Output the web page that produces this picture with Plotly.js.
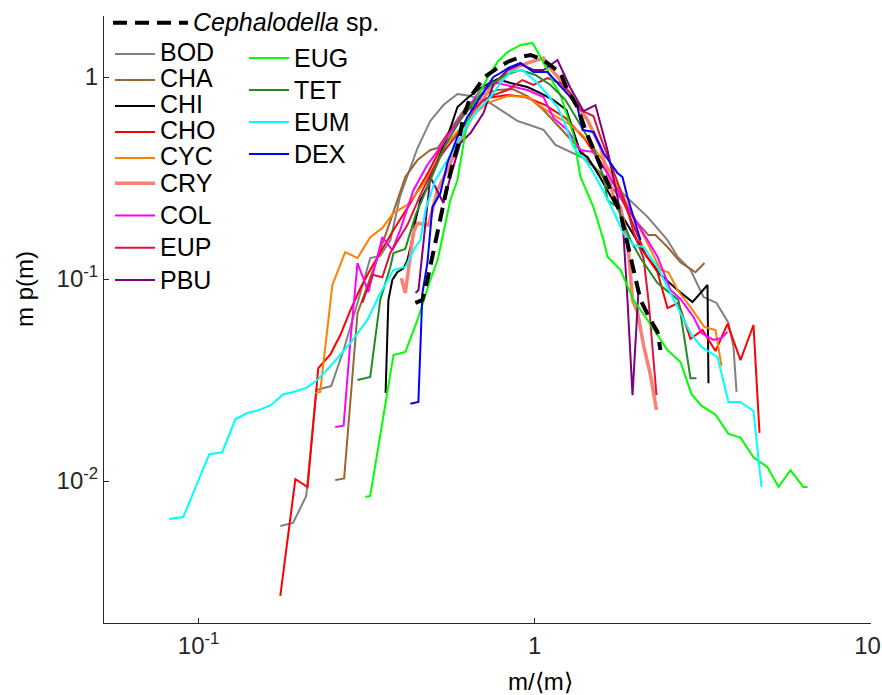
<!DOCTYPE html>
<html>
<head>
<meta charset="utf-8">
<script src="https://cdn.plot.ly/plotly-3.0.1.min.js"></script>
<style>html,body{margin:0;padding:0;background:#fff;}#chart{width:882px;height:695px;}</style>
</head>
<body>
<div id="chart"></div>
<script>
// ---- data (x = m/<m>, y = m p(m)) ----
const seriesNames = ["BOD","CHA","CHI","CHO","CYC","CRY","COL","EUP","PBU","EUG","TET","EUM","DEX"];
const cephName = "Cephalodella sp.";

const bodX = [0.175,0.191,0.209,0.224,0.248,0.270,0.297,0.324,0.347,0.372,0.398,0.448,0.489,0.535,0.589,0.644,0.738,0.807,0.888,0.985,1.062,1.153,1.277,1.397,1.537,1.703,1.888,2.166,2.483,2.66,2.907,3.178,3.474,3.771,3.903,3.984];
const bodY = [0.00599,0.0062,0.00843,0.0282,0.0295,0.0445,0.0761,0.127,0.130,0.156,0.258,0.445,0.606,0.726,0.824,0.805,0.743,0.671,0.606,0.572,0.547,0.461,0.425,0.397,0.346,0.299,0.252,0.203,0.156,0.129,0.111,0.0814,0.0761,0.0606,0.0461,0.0276];

const chaX = [0.255,0.271,0.297,0.309,0.324,0.347,0.377,0.412,0.448,0.489,0.514,0.561,0.622,0.689,0.775,0.859,0.951,1.062,1.193,1.368,1.516,1.646,1.799,1.967,2.18,2.287,2.483,2.714,3.008,3.2];
const chaY = [0.0101,0.0103,0.0678,0.0814,0.0989,0.139,0.207,0.320,0.388,0.435,0.445,0.547,0.702,0.814,0.862,0.872,0.805,0.686,0.559,0.435,0.354,0.299,0.252,0.200,0.165,0.165,0.144,0.121,0.108,0.120];

const chiX = [0.360,0.367,0.377,0.390,0.407,0.418,0.427,0.442,0.457,0.479,0.514,0.550,0.589,0.631,0.689,0.775,0.847,0.951,1.040,1.137,1.243,1.368,1.435,1.569,1.739,1.927,2.136,2.367,2.66,2.947,3.266,3.288];
const chiY = [0.0273,0.0787,0.0989,0.108,0.113,0.124,0.144,0.196,0.246,0.285,0.388,0.505,0.710,0.787,0.882,0.977,0.934,0.892,0.833,0.769,0.686,0.421,0.402,0.316,0.233,0.175,0.132,0.105,0.0882,0.0769,0.0934,0.0305];

const choX = [0.175,0.194,0.211,0.227,0.247,0.264,0.283,0.303,0.324,0.347,0.380,0.427,0.483,0.550,0.631,0.723,0.830,0.938,1.076,1.235,1.416,1.602,1.799,1.967,2.136,2.319,2.483,2.677,2.907,3.156,3.451,3.745,4.095,4.476,4.664];
const choY = [0.0027,0.0102,0.00934,0.0362,0.0425,0.0528,0.0702,0.0902,0.111,0.136,0.175,0.238,0.339,0.516,0.686,0.787,0.814,0.796,0.726,0.627,0.488,0.359,0.261,0.185,0.132,0.108,0.0718,0.0761,0.0505,0.0559,0.044,0.0599,0.0397,0.0592,0.0173];

const cycX = [0.2225,0.230,0.250,0.273,0.297,0.324,0.352,0.380,0.418,0.457,0.500,0.550,0.631,0.723,0.830,0.951,1.040,1.137,1.251,1.368,1.516,1.646,1.824,2.022,2.18,2.367,2.50,2.66,2.907,3.20,3.451,3.595];
const cycY = [0.0273,0.0276,0.0934,0.136,0.127,0.161,0.179,0.212,0.233,0.282,0.354,0.471,0.613,0.743,0.805,0.796,0.718,0.648,0.592,0.528,0.435,0.359,0.261,0.189,0.147,0.111,0.108,0.0882,0.0726,0.0578,0.0559,0.0371];

const cryX = [0.401,0.412,0.436,0.448,0.483,0.500,0.514,0.550,0.601,0.666,0.738,0.818,0.888,0.971,1.062,1.091,1.193,1.304,1.435,1.569,1.646,1.715,1.799,1.888,1.954,2.022,2.107,2.21,2.303];
const cryY = [0.101,0.0852,0.171,0.189,0.185,0.227,0.276,0.346,0.488,0.686,0.882,1.023,1.121,1.187,1.242,1.147,0.966,0.769,0.613,0.450,0.335,0.255,0.227,0.156,0.0787,0.0686,0.0471,0.0334,0.0225];

const colX = [0.255,0.270,0.283,0.297,0.320,0.352,0.377,0.398,0.436,0.479,0.524,0.589,0.657,0.689,0.754,0.847,0.951,1.062,1.137,1.251,1.368,1.495,1.646,1.888,2.136,2.319,2.535,2.714,2.967,3.134,3.403,3.595,3.745];
const colY = [0.0185,0.0188,0.0499,0.120,0.0862,0.161,0.139,0.175,0.276,0.367,0.450,0.599,0.769,0.862,0.944,0.902,0.862,0.796,0.627,0.547,0.435,0.425,0.335,0.227,0.163,0.129,0.0882,0.0796,0.0649,0.054,0.0499,0.0511,0.0546];

const eupX = [0.307,0.329,0.352,0.372,0.418,0.457,0.514,0.561,0.614,0.657,0.704,0.754,0.830,0.919,0.991,1.091,1.193,1.277,1.368,1.495,1.569,1.680,1.799,1.888,1.967,2.107,2.18,2.303];
const eupY = [0.0761,0.105,0.102,0.135,0.185,0.261,0.388,0.471,0.566,0.686,0.769,0.814,0.862,0.966,0.913,0.988,0.934,0.833,0.686,0.641,0.505,0.375,0.276,0.220,0.171,0.127,0.0787,0.0266];

const pbuX = [0.442,0.451,0.489,0.535,0.561,0.601,0.644,0.704,0.754,0.830,0.907,0.991,1.062,1.169,1.277,1.397,1.516,1.646,1.762,1.836,1.888,1.954,2.036];
const pbuY = [0.0852,0.0882,0.320,0.238,0.320,0.471,0.528,0.663,0.923,1.083,1.160,1.083,1.083,1.214,0.882,0.678,0.726,0.435,0.255,0.169,0.0787,0.0266,0.0882];

const eugX = [0.3135,0.324,0.380,0.412,0.448,0.489,0.514,0.561,0.589,0.614,0.631,0.675,0.723,0.775,0.830,0.907,0.985,1.040,1.091,1.137,1.193,1.304,1.368,1.495,1.602,1.646,1.799,1.967,2.166,2.483,2.714,2.927,3.134,3.451,3.771,4.095,4.476,4.926,5.312,5.768,6.305,6.479];
const eugY = [0.00834,0.00843,0.042,0.0435,0.0627,0.0989,0.124,0.246,0.309,0.471,0.613,0.796,0.988,1.187,1.329,1.441,1.474,1.256,1.083,0.934,0.814,0.516,0.320,0.227,0.156,0.129,0.111,0.0787,0.0627,0.0445,0.0388,0.0269,0.0236,0.0213,0.0171,0.0164,0.0131,0.0117,0.00934,0.0113,0.00934,0.00934];

const tetX = [0.297,0.324,0.347,0.372,0.380,0.412,0.442,0.489,0.542,0.601,0.666,0.738,0.818,0.907,1.005,1.114,1.235,1.368,1.495,1.602,1.646,1.762,1.927,2.064,2.319,2.677,2.907,3.029];
const tetY = [0.0316,0.0327,0.0787,0.115,0.1345,0.141,0.207,0.309,0.461,0.613,0.769,0.913,1.023,1.083,1.023,0.913,0.769,0.579,0.450,0.320,0.246,0.227,0.156,0.127,0.0956,0.0787,0.0323,0.0323];

const eumX = [0.0818,0.090,0.1076,0.1176,0.1286,0.1396,0.1516,0.1645,0.1786,0.1913,0.2091,0.2255,0.2517,0.2828,0.3177,0.3474,0.3797,0.4123,0.4416,0.4569,0.4729,0.5065,0.5499,0.5888,0.6437,0.6893,0.7383,0.7906,0.8467,0.9193,1.0188,1.0763,1.1687,1.2178,1.3036,1.435,1.537,1.68,1.836,1.967,2.107,2.319,2.535,2.714,2.907,3.134,3.497,3.771,4.095,4.476,4.728];
const eumY = [0.00648,0.00663,0.01357,0.01388,0.0202,0.0217,0.0225,0.0238,0.0269,0.0276,0.0289,0.0316,0.0384,0.0482,0.0627,0.0852,0.1108,0.1147,0.144,0.156,0.2196,0.3091,0.3882,0.4713,0.6125,0.7099,0.7958,0.9335,1.0587,1.083,0.9335,0.8426,0.7099,0.6125,0.450,0.3752,0.3091,0.2325,0.1689,0.1474,0.144,0.1147,0.0852,0.0678,0.054,0.0461,0.0411,0.0246,0.0246,0.0222,0.00934];

const dexX = [0.4267,0.4506,0.4633,0.4794,0.4962,0.5241,0.5499,0.5888,0.6306,0.7036,0.7537,0.7906,0.8351,0.9067,0.9912,1.0913,1.1687,1.277,1.34,1.387,1.495,1.6016,1.762,1.824,1.8875,1.967,2.064];
const dexY = [0.0241,0.0246,0.0852,0.12,0.2272,0.2665,0.3752,0.5047,0.634,0.833,1.0,1.0466,1.108,1.1732,1.0587,1.0587,0.9335,0.7958,0.7099,0.5465,0.5342,0.4205,0.335,0.3199,0.2546,0.2027,0.156];

const cephX = [0.4415,0.463,0.4794,0.4995,0.524,0.5423,0.561,0.5888,0.6135,0.6437,0.6753,0.7082,0.7744,0.8295,0.9067,0.971,1.061,1.129,1.193,1.251,1.34,1.415,1.495,1.602,1.715,1.799,1.862,1.967,2.064,2.21,2.319,2.366];
const cephY = [0.0761,0.0787,0.0989,0.1392,0.196,0.2606,0.335,0.450,0.634,0.796,0.892,1.0,1.108,1.187,1.256,1.285,1.214,1.121,1.047,0.862,0.710,0.5465,0.435,0.335,0.2546,0.212,0.165,0.111,0.0787,0.0627,0.0547,0.0445];

const xTickVals = [0.1, 1, 10];
const xTickText = ["10<sup>-1</sup>", "1", "10\u00A0"];
const yTickVals = [0.01, 0.1, 1];
const yTickText = ["10<sup>-2</sup>", "10<sup>-1</sup>", "1"];

// ---- styling ----
const xs = [bodX,chaX,chiX,choX,cycX,cryX,colX,eupX,pbuX,eugX,tetX,eumX,dexX];
const ys = [bodY,chaY,chiY,choY,cycY,cryY,colY,eupY,pbuY,eugY,tetY,eumY,dexY];
const colors = ["#808080","#996633","#000000","#ff0000","#ff8000","#fa8072","#ff00ff","#dc143c","#800080","#00ff00","#228b22","#00ffff","#0000ff"];
const widths = [2,2,2,2,2,3.5,2,2,2,2,2,2,2];
const legendOf = ["legend2","legend2","legend2","legend2","legend2","legend3","legend3","legend3","legend3","legend4","legend4","legend4","legend4"];
const FONT = "Liberation Sans, Arial, Helvetica, sans-serif";
const big = s => '<span style="font-size:25px">' + s + '</span>';

const traces = seriesNames.map((n, i) => ({
  type: "scatter", mode: "lines", name: big(n),
  x: xs[i], y: ys[i],
  line: {color: colors[i], width: widths[i]},
  legend: legendOf[i], hoverinfo: "skip"
}));
traces.push({
  type: "scatter", mode: "lines", name: big("<i>Cephalodella</i> sp."),
  x: cephX, y: cephY,
  line: {color: "#000000", width: 4, dash: "14px,8px"},
  legend: "legend", hoverinfo: "skip"
});

const W = 882, H = 695;
const ML = 104, MR = 11, MT = 16, MB = 72;
const PW = W - ML - MR, PH = H - MT - MB;
const px2x = px => (px - ML) / PW;
const py2y = py => (H - MB - py) / PH;

function leg(left, top, fs, iw) {
  return {x: px2x(left), y: py2y(top), xref: "paper", yref: "paper",
    xanchor: "left", yanchor: "top", bgcolor: "rgba(0,0,0,0)", borderwidth: 0,
    font: {family: FONT, size: fs, color: "#000"}, itemwidth: iw,
    tracegroupgap: 0, itemclick: false, itemdoubleclick: false};
}

const axisCommon = {
  type: "log", showgrid: false, zeroline: false, showline: true,
  linecolor: "#262626", linewidth: 1, ticks: "inside", ticklen: 5, tickwidth: 1,
  tickcolor: "#262626", tickfont: {family: FONT, size: 24, color: "#262626"},
  mirror: false, automargin: false, ticklabeloverflow: "allow"
};

const layout = {
  width: W, height: H,
  margin: {l: ML, r: MR, t: MT, b: MB, autoexpand: false},
  paper_bgcolor: "#fff", plot_bgcolor: "#fff",
  showlegend: true,
  font: {family: FONT, color: "#262626"},
  xaxis: Object.assign({}, axisCommon, {range: [-1.2815, 1.0005], tickvals: xTickVals, ticktext: xTickText, ticklabelstandoff: 1}),
  yaxis: Object.assign({}, axisCommon, {range: [-2.703, 0.302], tickvals: yTickVals, ticktext: yTickText}),
  legend: leg(108, 2, 22, 75),
  legend2: leg(110, 36, 17.7, 40),
  legend3: leg(110, 162, 22.5, 40),
  legend4: leg(244, 37, 22.3, 40),
  annotations: [
    {text: "m p(m)", xref: "paper", yref: "paper", x: px2x(24), y: py2y(289),
     textangle: -90, showarrow: false, xanchor: "center", yanchor: "middle",
     font: {family: FONT, size: 24, color: "#000"}},
    {text: "m/\u27E8m\u27E9", xref: "paper", yref: "paper", x: px2x(540), y: py2y(681),
     showarrow: false, xanchor: "center", yanchor: "middle",
     font: {family: FONT, size: 24, color: "#000"}}
  ]
};

Plotly.newPlot("chart", traces, layout, {staticPlot: true, displayModeBar: false});
</script>
</body>
</html>
